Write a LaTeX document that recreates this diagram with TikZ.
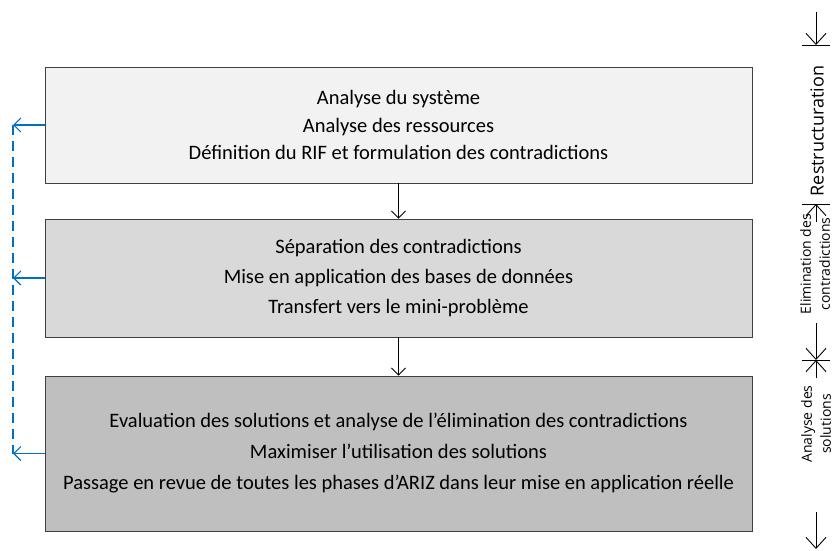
\documentclass[tikz,border=0pt]{standalone}
\usepackage{fontspec}
\setmainfont{Carlito}
\newfontfamily\labelfont{Open Sans}
\usetikzlibrary{arrows.meta}
\definecolor{boxA}{HTML}{F2F2F2}
\definecolor{boxB}{HTML}{D9D9D9}
\definecolor{boxC}{HTML}{BFBFBF}
\definecolor{frame}{HTML}{404040}
\definecolor{loopblue}{HTML}{0070C0}
\tikzset{
  phase/.style={draw=frame, line width=0.9pt, minimum width=707pt, align=center,
    text=black, font=\fontsize{20.5}{30}\selectfont},
  flow/.style={line width=0.9pt, -{Straight Barb[length=7pt,width=14pt]}},
  back/.style={loopblue, line width=1.1pt, -{Straight Barb[length=7pt,width=14pt]}},
  backline/.style={loopblue, line width=1.1pt, dash pattern=on 10pt off 6pt},
  axis/.style={line width=0.9pt},
  axtip/.style={line width=0.9pt, -{Straight Barb[length=11pt,width=20pt]}},
  stage/.style={rotate=90, align=center, inner sep=0pt, font=\labelfont\fontsize{14}{19}\selectfont},
}
\begin{document}
\begin{tikzpicture}[x=1pt,y=-1pt]
\useasboundingbox[fill=white] (0,0) rectangle (836,551);

% the three phases
\node[phase, fill=boxA, minimum height=116pt, font=\fontsize{20.5}{27.5}\selectfont] (b1) at (398.5,125)
  {Analyse du système\\Analyse des ressources\\Définition du RIF et formulation des contradictions};
\node[phase, fill=boxB, minimum height=118pt] (b2) at (398.5,278)
  {Séparation des contradictions\\Mise en application des bases de données\\Transfert vers le mini-problème};
\node[phase, fill=boxC, minimum height=155pt, font=\fontsize{20.5}{31}\selectfont] (b3) at (398.5,453.5)
  {Evaluation des solutions et analyse de l’élimination des contradictions\\Maximiser l’utilisation des solutions\\Passage en revue de toutes les phases d’ARIZ dans leur mise en application réelle};

% downward flow
\draw[flow] (b1.south) -- (b2.north);
\draw[flow] (b2.south) -- (b3.north);

% feedback loop on the left
\coordinate (l1) at (13,125);
\coordinate (l2) at (13,278);
\coordinate (l3) at (13,453.5);
\draw[back] (b1.west) -- (l1);
\draw[back] (b2.west) -- (l2);
\draw[back] (b3.west) -- (l3);
\draw[backline] (l1) -- (l3);

% stage scale on the right
\coordinate (m0) at (816,12);
\coordinate (m1) at (816,45);
\coordinate (m2) at (816,204);
\coordinate (m2b) at (816,222);
\coordinate (m3a) at (816,323);
\coordinate (m3) at (816,360);
\coordinate (m3b) at (816,378);
\coordinate (m4a) at (816,512);
\coordinate (m4) at (816,549);
\draw[axis] ([xshift=-14pt]m1) -- ([xshift=14pt]m1);
\draw[axis] ([xshift=-14pt]m2) -- ([xshift=14pt]m2);
\draw[axis] ([xshift=-14pt]m3) -- ([xshift=14pt]m3);
\draw[axtip] (m0) -- (m1);
\draw[axtip] (m2b) -- (m2);
\draw[axtip] (m3a) -- (m3);
\draw[axtip] (m3b) -- (m3);
\draw[axtip] (m4a) -- (m4);

\node[stage, font=\labelfont\fontsize{18}{22}\selectfont] (s1) at (817,131) {Restructuration};
\node[stage] (s2) at (815,264) {Elimination des\\contradictions};
\node[stage] (s3) at (816,424) {Analyse des\\solutions};
\end{tikzpicture}
\end{document}
